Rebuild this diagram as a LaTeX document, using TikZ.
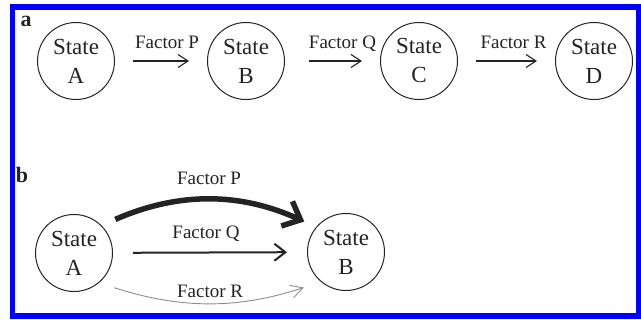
\documentclass[tikz,border=0pt]{standalone}
\usepackage{fontspec}
\setmainfont{Liberation Serif}
\usetikzlibrary{arrows.meta, positioning, calc}
\definecolor{framecolor}{RGB}{0,0,255}
\definecolor{inkcolor}{RGB}{35,35,35}
\definecolor{weakcolor}{RGB}{140,140,140}

\begin{document}
\begin{tikzpicture}[
    x=1pt, y=-1pt,
    state/.style={circle, draw=inkcolor, line width=1pt, inner sep=0pt, minimum size=77pt, align=center, text=inkcolor, font=\fontsize{23}{29}\selectfont},
    factor/.style={inner sep=0pt, text depth=0pt, text=inkcolor, font=\fontsize{19}{22}\selectfont},
    panel/.style={inner sep=0pt, text=inkcolor, font=\fontsize{22}{22}\selectfont\bfseries},
    flow/.style={-{Straight Barb[length=10pt, width=13pt]}, line width=1.1pt, draw=inkcolor, shorten <=18pt, shorten >=18pt},
    strongflow/.style={-{Straight Barb[length=15pt, width=27pt]}, line width=5.5pt, draw=inkcolor, shorten <=15pt, shorten >=13pt},
    midflow/.style={-{Straight Barb[length=11pt, width=17pt]}, line width=2pt, draw=inkcolor, shorten <=20pt, shorten >=20pt},
    weakflow/.style={-{Straight Barb[length=12pt, width=13pt]}, line width=0.9pt, draw=weakcolor, shorten <=16pt, shorten >=18pt}
]
\useasboundingbox (0,0) rectangle (641,320);
\draw[framecolor, line width=5.5pt] (12.5,7) rectangle (638.5,316);

% panel a: chain of states
\node[panel] (la) at (26,21) {a};
\node[state] (sa) at (76,61) {State\\A};
\node[state] (sb) at (246,61) {State\\B};
\node[state] (sc) at (419,61) {State\\C};
\node[state] (sd) at (594,61) {State\\D};

\draw[flow] (sa) -- (sb) node[factor, midway, above=12pt, xshift=6pt] (fp) {Factor P};
\draw[flow, shorten <=24pt] (sb) -- (sc) node[factor, midway, above=12pt, xshift=10pt] (fq) {Factor Q};
\draw[flow] (sc) -- (sd) node[factor, midway, above=12pt, xshift=7pt] (fr) {Factor R};

% panel b: parallel factors
\node[panel] (lb) at (22,175) {b};
\node[state] (sa2) at (74,253) {State\\A};
\node[state] (sb2) at (346,252) {State\\B};

\draw[strongflow] (sa2.45) to[bend left=24] node[factor, midway, above=13pt] (fp2) {Factor P} (sb2.140);
\draw[midflow] (sa2) -- (sb2) node[factor, midway, above=13pt, xshift=-4pt] (fq2) {Factor Q};
\draw[weakflow] (sa2.-50) to[bend right=18] node[factor, midway, above=5pt] (fr2) {Factor R} (sb2.-130);

\end{tikzpicture}
\end{document}
